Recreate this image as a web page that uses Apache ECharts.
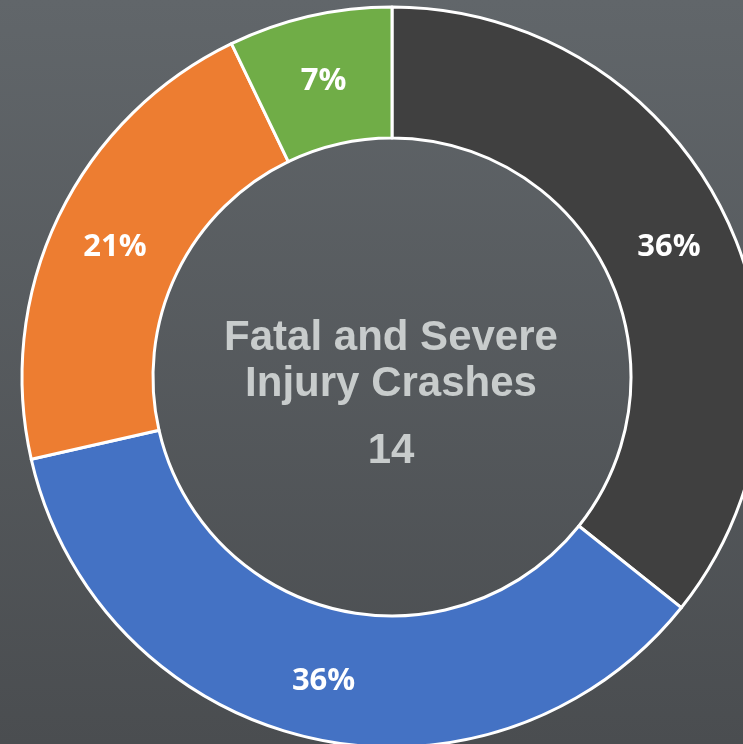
<!DOCTYPE html>
<html><head><meta charset="utf-8">
<script src="https://cdn.jsdelivr.net/npm/echarts@6/dist/echarts.min.js"></script>
<style>html,body{margin:0;padding:0;background:#575b5e}#c{width:743px;height:744px}</style>
</head><body><div id="c"></div>
<script>
const categories = ['A', 'B', 'C', 'D'];
const values = [5, 5, 3, 1];
const colors = ['#404040', '#4472c4', '#ed7d31', '#70ad47'];
const centerLines = ['Fatal and Severe', 'Injury Crashes'];
const total = 14;

const chart = echarts.init(document.getElementById('c'), null, {renderer: 'canvas'});
const font = 'bold 42px "Liberation Sans", Arial';
chart.setOption({
  backgroundColor: new echarts.graphic.LinearGradient(0, 0, 0, 1, [
    {offset: 0, color: '#61666a'}, {offset: 1, color: '#4a4d50'}
  ]),
  animation: false,
  series: [{
    type: 'pie',
    center: [392, 377],
    radius: [239, 370],
    startAngle: 90,
    clockwise: true,
    avoidLabelOverlap: false,
    itemStyle: {borderColor: '#ffffff', borderWidth: 3},
    label: {
      show: true, position: 'inside',
      formatter: p => Math.round(p.percent) + '%',
      color: '#ffffff', fontSize: 31, fontWeight: 'bold', fontFamily: 'Open Sans',
      offset: [0, 4]
    },
    labelLine: {show: false},
    data: categories.map((c, i) => ({name: c, value: values[i], itemStyle: {color: colors[i]}}))
  }],
  graphic: [
    {type: 'text', x: 391, y: 338, style: {text: centerLines[0], fill: '#c8cccc', font: font, textAlign: 'center', textVerticalAlign: 'middle'}},
    {type: 'text', x: 391, y: 384, style: {text: centerLines[1], fill: '#c8cccc', font: font, textAlign: 'center', textVerticalAlign: 'middle'}},
    {type: 'text', x: 391, y: 451, style: {text: String(total), fill: '#c8cccc', font: font, textAlign: 'center', textVerticalAlign: 'middle'}}
  ]
});
</script></body></html>
